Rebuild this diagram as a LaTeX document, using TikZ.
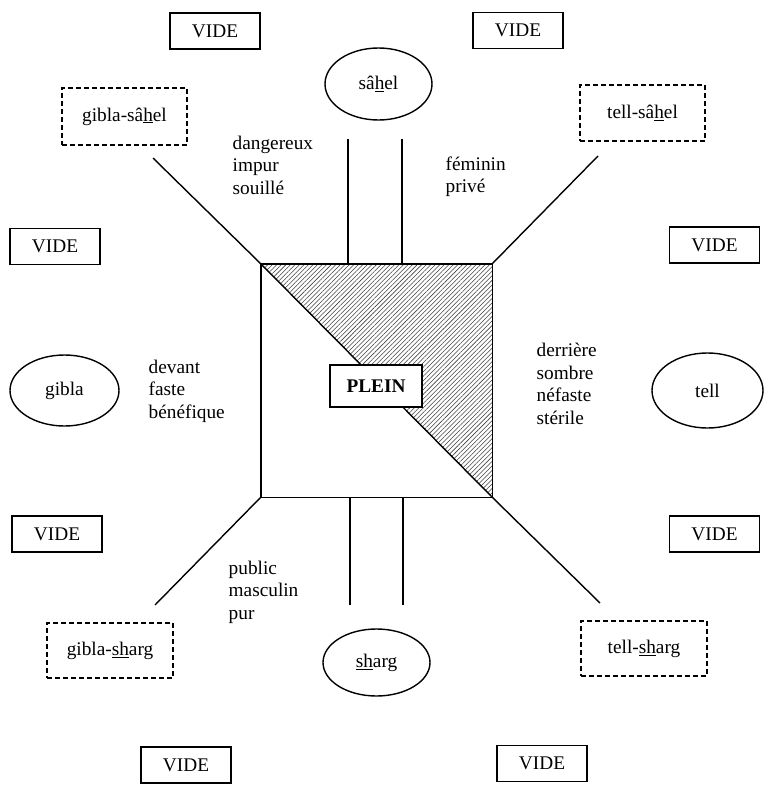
\documentclass[tikz,border=0pt]{standalone}
\usepackage{fontspec}
\setmainfont{Liberation Serif}
\usetikzlibrary{shapes.geometric,patterns.meta}
\tikzset{
  base/.style={font=\fontsize{19.3}{22.5}\selectfont, inner sep=0pt, line width=1.4pt},
  videbox/.style={base, draw, minimum width=90pt, minimum height=36pt},
  dashbox/.style={base, draw, dash pattern=on 5pt off 3pt, minimum width=125pt, minimum height=56pt},
  oval/.style={base, draw, ellipse},
  plainbox/.style={base, draw, fill=white, minimum width=92pt, minimum height=42pt, font=\fontsize{19.3}{22.5}\selectfont\bfseries},
  words/.style={base, align=left, anchor=west},
  ln/.style={line width=1.4pt},
}
\newcommand{\ul}[1]{\underline{#1}}
\begin{document}
\begin{tikzpicture}[x=1pt,y=-1pt]
\useasboundingbox (0,0) rectangle (763,795);
% central square
\node[minimum width=231pt, minimum height=233pt, inner sep=0pt] (sq) at (376.5,380.5) {};
\fill[pattern={Lines[angle=45,distance=3.2pt,line width=0.55pt]}, pattern color=black!75]
  (sq.north west) -- (sq.north east) -- (sq.south east) -- cycle;
\draw[ln] (sq.north west) rectangle (sq.south east);
\draw[ln] (sq.north west) -- (sq.south east);
\node[plainbox] (plein) at (376,386) {PLEIN};

% VIDE boxes
\node[videbox] (v1) at (215,31) {VIDE};
\node[videbox] (v2) at (518,30.5) {VIDE};
\node[videbox] (v3) at (55,246.5) {VIDE};
\node[videbox] (v4) at (714.5,245) {VIDE};
\node[videbox] (v5) at (57,534) {VIDE};
\node[videbox] (v6) at (714.5,534) {VIDE};
\node[videbox] (v7) at (186,765) {VIDE};
\node[videbox] (v8) at (542,763.5) {VIDE};

% dashed boxes
\node[dashbox, minimum height=57pt] (gs) at (124.5,116.5) {gibla-sâ\ul{h}el};
\node[dashbox] (ts) at (642.5,113) {tell-sâ\ul{h}el};
\node[dashbox, minimum width=126pt, minimum height=55pt] (gsh) at (110,650.5) {gibla-\ul{sh}arg};
\node[dashbox, minimum width=126pt, minimum height=55pt] (tsh) at (644,648.5) {tell-\ul{sh}arg};

% ellipses
\node[oval, minimum width=107pt, minimum height=72pt] (sahel) at (378.5,84) {sâ\ul{h}el};
\node[oval, minimum width=109pt, minimum height=71pt] (gibla) at (64.5,390.5) {gibla};
\node[oval, minimum width=111pt, minimum height=75pt] (tell) at (707.5,390.5) {tell};
\node[oval, minimum width=107pt, minimum height=67pt] (sharg) at (376.5,662.5) {\ul{sh}arg};

% free ends of the connectors
\coordinate (etl) at (153,158);
\coordinate (etr) at (598,156);
\coordinate (ebl) at (155,605);
\coordinate (ebr) at (600,603);
\coordinate (vt1) at (348,139);
\coordinate (vt2) at (402,139);
\coordinate (vb1) at (350,605);
\coordinate (vb2) at (403,605);

\draw[ln] (sq.north west) -- (etl);
\draw[ln] (sq.north east) -- (etr);
\draw[ln] (sq.south west) -- (ebl);
\draw[ln] (sq.south east) -- (ebr);
\draw[ln] (vt1) -- (vt1 |- sq.north);
\draw[ln] (vt2) -- (vt2 |- sq.north);
\draw[ln] (vb1) -- (vb1 |- sq.south);
\draw[ln] (vb2) -- (vb2 |- sq.south);

% word lists
\node[words] (w1) at (232,165) {dangereux\\impur\\souillé};
\node[words] (w2) at (445,177) {féminin\\privé};
\node[words] (w3) at (148,391) {devant\\faste\\bénéfique};
\node[words] (w4) at (536,384) {derrière\\sombre\\néfaste\\stérile};
\node[words] (w5) at (228,592) {public\\masculin\\pur};
\end{tikzpicture}
\end{document}
